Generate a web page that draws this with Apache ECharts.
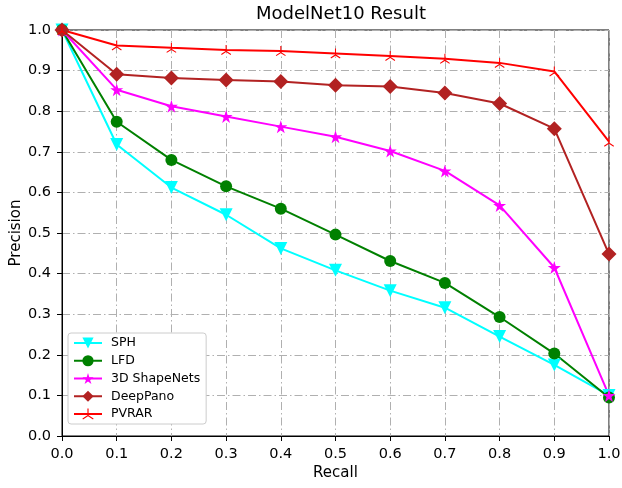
<!DOCTYPE html>
<html>
<head>
<meta charset="utf-8">
<script src="https://cdn.jsdelivr.net/npm/echarts@6/dist/echarts.min.js"></script>
<style>
  html, body { margin: 0; padding: 0; background: #fff; }
  #chart { width: 622px; height: 488px; }
</style>
</head>
<body>
<div id="chart"></div>
<script>
// recall points on the x axis
const recall = [0, 0.1, 0.2, 0.3, 0.4, 0.5, 0.6, 0.7, 0.8, 0.9, 1.0];

// precision per method
const sph = [1.0, 0.718, 0.612, 0.545, 0.462, 0.408, 0.358, 0.316, 0.245, 0.175, 0.1];
const lfd = [1.0, 0.774, 0.680, 0.615, 0.560, 0.496, 0.431, 0.377, 0.293, 0.203, 0.095];
const shapeNets = [1.0, 0.853, 0.812, 0.787, 0.762, 0.737, 0.702, 0.653, 0.568, 0.415, 0.1];
const deepPano = [1.0, 0.891, 0.882, 0.877, 0.873, 0.864, 0.861, 0.845, 0.819, 0.757, 0.448];
const pvrar = [1.0, 0.962, 0.956, 0.951, 0.948, 0.942, 0.936, 0.929, 0.919, 0.898, 0.725];

const font = "DejaVu Sans";

const starPath = "path://M50,0 L61,35 L98,35 L68,57 L79,91 L50,70 L21,91 L32,57 L2,35 L39,35 Z";
const triPath = "path://M45,0 L55,0 L55,52 L98,78 L93,86 L50,61 L7,86 L2,78 L45,52 Z";

const pairs = (ys) => recall.map((x, i) => [x, ys[i]]);

const makeSeries = (name, ys, color, symbol, size, rotate) => ({
  name: name,
  type: "line",
  data: pairs(ys),
  symbol: symbol,
  symbolSize: size,
  symbolRotate: rotate || 0,
  showSymbol: true,
  lineStyle: { color: color, width: 2 },
  itemStyle: { color: color, borderWidth: 0 },
  emphasis: { disabled: true },
  animation: false
});

const chart = echarts.init(document.getElementById("chart"));

const gridLine = {
  show: true,
  lineStyle: { color: "#b0b0b0", width: 1, type: [8, 3, 1.5, 3] }
};

const tickLabel = {
  fontFamily: font, fontSize: 14.5, color: "#000", margin: 11,
  formatter: (v) => v.toFixed(1)
};

chart.setOption({
  backgroundColor: "#fff",
  title: {
    text: "ModelNet10 Result",
    left: 336,
    top: 0,
    textAlign: "center",
    textStyle: { fontFamily: font, fontSize: 18, fontWeight: "normal", color: "#000" }
  },
  legend: {
    orient: "vertical",
    left: 68,
    top: 333,
    backgroundColor: "#fff",
    borderColor: "#cccccc",
    borderWidth: 1,
    borderRadius: 3,
    padding: [3.5, 6, 3.5, 5],
    itemWidth: 28,
    itemHeight: 14,
    itemGap: 4.75,
    textStyle: { fontFamily: font, fontSize: 12.5, color: "#000", padding: [0, 0, 0, 4] },
    data: ["SPH", "LFD", "3D ShapeNets", "DeepPano", "PVRAR"]
  },
  grid: {
    left: 62,
    right: 13,
    top: 30,
    bottom: 52,
    containLabel: false,
    outerBoundsMode: "none",
    show: true,
    borderColor: "#000",
    borderWidth: 1
  },
  xAxis: {
    type: "value",
    min: 0,
    max: 1,
    interval: 0.1,
    name: "Recall",
    nameLocation: "middle",
    nameGap: 30,
    nameMoveOverlap: false,
    nameTextStyle: { fontFamily: font, fontSize: 15, color: "#000" },
    axisLine: { show: true, lineStyle: { color: "#000" } },
    axisTick: { show: true, length: 5, lineStyle: { color: "#000" } },
    axisLabel: tickLabel,
    splitLine: gridLine
  },
  yAxis: {
    type: "value",
    min: 0,
    max: 1,
    interval: 0.1,
    name: "Precision",
    nameLocation: "middle",
    nameGap: 38,
    nameMoveOverlap: false,
    nameTextStyle: { fontFamily: font, fontSize: 15, color: "#000" },
    axisLine: { show: true, lineStyle: { color: "#000" } },
    axisTick: { show: true, length: 5, lineStyle: { color: "#000" } },
    axisLabel: tickLabel,
    splitLine: gridLine
  },
  series: [
    makeSeries("SPH", sph, "#00ffff", "triangle", 13, 180),
    makeSeries("LFD", lfd, "#008000", "circle", 12),
    makeSeries("3D ShapeNets", shapeNets, "#ff00ff", starPath, 13),
    makeSeries("DeepPano", deepPano, "#b22222", "diamond", 15),
    makeSeries("PVRAR", pvrar, "#ff0000", triPath, 10)
  ]
});
</script>
</body>
</html>
